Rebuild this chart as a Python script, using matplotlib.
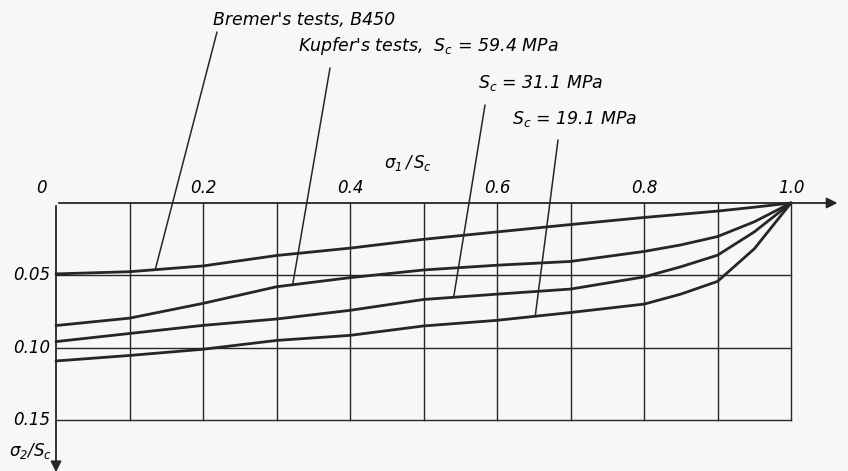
import matplotlib.pyplot as plt
import numpy as np

plt.rcParams['font.family'] = 'DejaVu Sans'
plt.rcParams['font.style'] = 'italic'
plt.rcParams['mathtext.fontset'] = 'dejavusans'
plt.rcParams['mathtext.default'] = 'it'

# sigma1/Sc along the top axis, sigma2/Sc downwards
s1 = [0, 0.1, 0.2, 0.3, 0.4, 0.5, 0.6, 0.7, 0.8, 0.85, 0.9, 0.95, 1.0]
bremer = [0.049, 0.0475, 0.0435, 0.0363, 0.0312, 0.0251, 0.0200, 0.0149, 0.0100, 0.0078, 0.0056, 0.0029, 0]
kupfer_594 = [0.0847, 0.0796, 0.0694, 0.0579, 0.0516, 0.0463, 0.0430, 0.0404, 0.0335, 0.029, 0.0232, 0.013, 0]
kupfer_311 = [0.0958, 0.0902, 0.0846, 0.0802, 0.0742, 0.0667, 0.0630, 0.0595, 0.0511, 0.0441, 0.0361, 0.020, 0]
kupfer_191 = [0.1092, 0.1054, 0.1011, 0.0950, 0.0915, 0.0850, 0.0811, 0.0757, 0.0699, 0.063, 0.0542, 0.0317, 0]

xticks = [0.2, 0.4, 0.6, 0.8, 1.0]
yticks = [0.05, 0.10, 0.15]

ink = '#262626'
paper = '#f7f7f5'

fig = plt.figure(figsize=(8.48, 4.71), dpi=100, facecolor=paper)
ax = fig.add_axes([56/848, 51/471, 735/848, 217/471])
ax.set_facecolor(paper)
ax.set_xlim(0, 1.0)
ax.set_ylim(0.15, 0)
for s in ax.spines.values():
    s.set_visible(False)
ax.set_xticks([])
ax.set_yticks([])

# grid
for x in np.arange(0.1, 1.01, 0.1):
    ax.plot([x, x], [0, 0.15], color=ink, lw=1.0, clip_on=False)
for y in yticks:
    ax.plot([0, 1.0], [y, y], color=ink, lw=1.0, clip_on=False)

# axes with arrows
ax.annotate('', xy=(1.067, 0), xytext=(0, 0),
            arrowprops=dict(arrowstyle='-|>', color=ink, lw=1.3, mutation_scale=16),
            annotation_clip=False)
ax.annotate('', xy=(0, 0.188), xytext=(0, 0),
            arrowprops=dict(arrowstyle='-|>', color=ink, lw=1.3, mutation_scale=16),
            annotation_clip=False)

curves = [bremer, kupfer_594, kupfer_311, kupfer_191]
for c in curves:
    ax.plot(s1, c, color=ink, lw=2.0, solid_capstyle='round',
            solid_joinstyle='round', clip_on=False)

# tick labels
fs = 12
ax.text(-0.012, -0.004, '0', ha='right', va='bottom', fontsize=fs)
for x in xticks:
    ax.text(x, -0.004, '%.1f' % x, ha='center', va='bottom', fontsize=fs)
for y in yticks:
    ax.text(-0.008, y, '%.2f' % y, ha='right', va='center', fontsize=fs)

# axis titles
fig.text(408/848, 1 - 163/471, r'$\sigma_1\,/\,S_c$', ha='center', va='center', fontsize=fs)
fig.text(30/848, 1 - 451/471, r'$\sigma_2/S_c$', ha='center', va='center', fontsize=fs)

# curve labels with leader lines
labels = ["Bremer's tests, B450",
          r"Kupfer's tests,  $S_c$ = 59.4 MPa",
          r"$S_c$ = 31.1 MPa",
          r"$S_c$ = 19.1 MPa"]
label_pos = [(213, 20), (298, 46), (478, 83), (512, 119)]
leader_top = [(217, 32), (330, 68), (485, 105), (558, 140)]
leader_x = [0.135, 0.322, 0.541, 0.652]
for c, lab, (tx, ty), (lx, ly), x in zip(curves, labels, label_pos, leader_top, leader_x):
    fig.text(tx/848, 1 - ty/471, lab, ha='left', va='center', fontsize=12.5)
    y = np.interp(x, s1, c)
    ax.annotate('', xy=(x, y), xytext=(lx, 471 - ly), textcoords='figure pixels',
                arrowprops=dict(arrowstyle='-', color=ink, lw=1.1, shrinkA=0, shrinkB=0),
                annotation_clip=False)

fig.savefig('out.png', dpi=100, facecolor=paper)
